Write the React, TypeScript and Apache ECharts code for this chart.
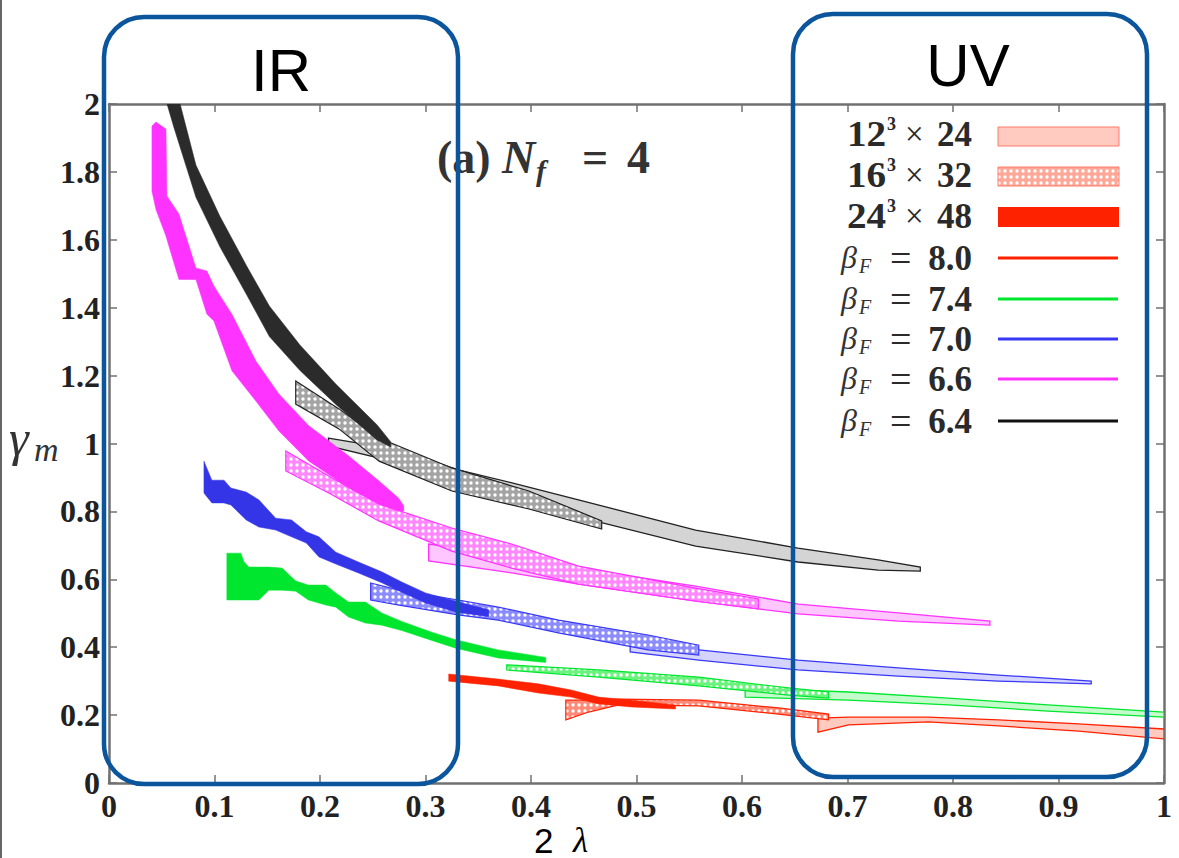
import React, { useEffect, useRef } from 'react';
import * as echarts from 'echarts';

const xTickLabels = ['0', '0.1', '0.2', '0.3', '0.4', '0.5', '0.6', '0.7', '0.8', '0.9', '1'];
const yTickLabels = ['0', '0.2', '0.4', '0.6', '0.8', '1', '1.2', '1.4', '1.6', '1.8', '2'];

// Each row: [2λ, γm lower edge, γm upper edge]
// beta_F = 6.4
const black24 = [
  [0.055, 2.0, 2.2], [0.0616, 1.93, 2.07], [0.0824, 1.725, 1.82], [0.105, 1.58, 1.67],
  [0.131, 1.435, 1.52], [0.152, 1.315, 1.405], [0.181, 1.215, 1.29], [0.215, 1.115, 1.175],
  [0.254, 1.01, 1.055], [0.267, 0.99, 1.005],
];
const black16 = [
  [0.177, 1.116, 1.184], [0.218, 1.043, 1.102], [0.256, 0.948, 1.016], [0.325, 0.86, 0.928],
  [0.398, 0.807, 0.86], [0.467, 0.748, 0.772],
];
const black12 = [
  [0.208, 0.993, 1.016], [0.275, 0.943, 0.981], [0.331, 0.872, 0.922], [0.382, 0.834, 0.884],
  [0.445, 0.784, 0.834], [0.556, 0.698, 0.745], [0.653, 0.651, 0.692], [0.729, 0.627, 0.657],
  [0.769, 0.624, 0.636],
];
// beta_F = 6.6
const pink24 = [
  [0.0407, 1.744, 1.935], [0.0445, 1.689, 1.947], [0.054, 1.611, 1.926], [0.0549, 1.601, 1.729],
  [0.0663, 1.483, 1.676], [0.0824, 1.483, 1.517], [0.0928, 1.381, 1.508], [0.0994, 1.361, 1.464],
  [0.1165, 1.214, 1.381], [0.1392, 1.125, 1.243], [0.161, 1.037, 1.146], [0.1894, 0.948, 1.052],
  [0.2273, 0.869, 0.963], [0.2557, 0.822, 0.89], [0.2746, 0.801, 0.839], [0.2794, 0.801, 0.816],
];
const pink16 = [
  [0.1676, 0.919, 0.978], [0.2083, 0.854, 0.904], [0.2557, 0.772, 0.822], [0.3248, 0.683, 0.751],
  [0.3816, 0.633, 0.704], [0.445, 0.586, 0.639], [0.5559, 0.536, 0.574], [0.6155, 0.513, 0.542],
];
const pink12 = [
  [0.303, 0.654, 0.704], [0.3816, 0.619, 0.669], [0.445, 0.586, 0.633], [0.5559, 0.536, 0.58],
  [0.6534, 0.498, 0.527], [0.748, 0.477, 0.501], [0.835, 0.465, 0.477],
];
// beta_F = 7.0
const blue24 = [
  [0.09, 0.854, 0.948], [0.0975, 0.825, 0.892], [0.109, 0.825, 0.892], [0.1155, 0.819, 0.869],
  [0.13, 0.775, 0.857], [0.142, 0.754, 0.834], [0.158, 0.745, 0.78], [0.173, 0.725, 0.775],
  [0.187, 0.707, 0.74], [0.199, 0.666, 0.725], [0.215, 0.645, 0.68], [0.237, 0.618, 0.65],
  [0.2585, 0.59, 0.622], [0.2775, 0.562, 0.592], [0.3, 0.53, 0.56], [0.3286, 0.504, 0.535],
  [0.36, 0.49, 0.51],
];
const blue16 = [
  [0.248, 0.539, 0.589], [0.275, 0.524, 0.568], [0.331, 0.495, 0.539], [0.369, 0.48, 0.518],
  [0.426, 0.442, 0.48], [0.511, 0.392, 0.436], [0.559, 0.377, 0.406],
];
const blue12 = [
  [0.494, 0.386, 0.406], [0.559, 0.362, 0.392], [0.653, 0.333, 0.362], [0.748, 0.315, 0.339],
  [0.843, 0.3, 0.318], [0.931, 0.292, 0.3],
];
// beta_F = 7.4
const green24 = [
  [0.1117, 0.539, 0.677], [0.125, 0.539, 0.677], [0.128, 0.539, 0.651], [0.1326, 0.539, 0.636],
  [0.142, 0.539, 0.636], [0.1515, 0.568, 0.636], [0.164, 0.568, 0.633], [0.177, 0.565, 0.595],
  [0.189, 0.539, 0.583], [0.2055, 0.524, 0.583], [0.215, 0.518, 0.56], [0.227, 0.489, 0.533],
  [0.243, 0.471, 0.533], [0.2585, 0.465, 0.501], [0.2775, 0.449, 0.476], [0.306, 0.42, 0.444],
  [0.3286, 0.397, 0.422], [0.369, 0.368, 0.392], [0.414, 0.355, 0.37],
];
const green16 = [
  [0.377, 0.333, 0.348], [0.464, 0.312, 0.333], [0.559, 0.286, 0.312], [0.644, 0.259, 0.28],
  [0.682, 0.25, 0.268],
];
const green12 = [
  [0.603, 0.253, 0.28], [0.701, 0.244, 0.268], [0.7955, 0.23, 0.25], [0.89, 0.212, 0.23],
  [1.0, 0.194, 0.209],
];
// beta_F = 8.0
const red24 = [
  [0.322, 0.3, 0.321], [0.369, 0.286, 0.306], [0.407, 0.265, 0.292], [0.438, 0.253, 0.274],
  [0.464, 0.233, 0.253], [0.495, 0.224, 0.244], [0.537, 0.218, 0.23],
];
const red16 = [
  [0.433, 0.186, 0.244], [0.4545, 0.209, 0.244], [0.483, 0.23, 0.247], [0.559, 0.227, 0.244],
  [0.6345, 0.203, 0.221], [0.682, 0.186, 0.203],
];
const red12 = [
  [0.672, 0.15, 0.191], [0.701, 0.171, 0.194], [0.7765, 0.18, 0.194], [0.843, 0.168, 0.186],
  [0.919, 0.153, 0.174], [1.0, 0.13, 0.159],
];

const betaValues = ['8.0', '7.4', '7.0', '6.6', '6.4'];
const volumeSpatial = ['12', '16', '24'];
const volumeTemporal = ['24', '32', '48'];

const lineColor: Record<string, string> = { red: '#ff2200', green: '#00e62e', blue: '#3838f5', pink: '#ff33ff', black: '#111111' };
const lightFill: Record<string, string> = { red: '#ffcabf', green: '#c4fbca', blue: '#d4d4ff', pink: '#ffc6ff', black: '#d4d4d4' };
const dotFill: Record<string, string> = { red: '#ff8a78', green: '#6cf37e', blue: '#8c8cff', pink: '#ff88ff', black: '#a4a4a4' };
const solidFill: Record<string, string> = { red: '#ff2200', green: '#00e62e', blue: '#3535e8', pink: '#ff33ff', black: '#2b2b2b' };

const bands: [string, number, number[][]][] = [
  ['black', 12, black12], ['pink', 12, pink12], ['blue', 12, blue12], ['green', 12, green12], ['red', 12, red12],
  ['black', 16, black16], ['pink', 16, pink16], ['blue', 16, blue16], ['green', 16, green16], ['red', 16, red16],
  ['black', 24, black24], ['pink', 24, pink24], ['blue', 24, blue24], ['green', 24, green24], ['red', 24, red24],
];

function dotPattern(bg: string) {
  const c = document.createElement('canvas');
  c.width = 6;
  c.height = 6;
  const ctx = c.getContext('2d') as CanvasRenderingContext2D;
  ctx.fillStyle = bg;
  ctx.fillRect(0, 0, 6, 6);
  ctx.fillStyle = '#ffffff';
  ctx.beginPath();
  ctx.arc(3, 3, 1.7, 0, Math.PI * 2);
  ctx.fill();
  return { image: c, repeat: 'repeat', imageWidth: 6, imageHeight: 6 };
}

function bandSeries(color: string, vol: number, rows: number[][]) {
  let fill: any;
  let stroke: string;
  let lineWidth: number;
  if (vol === 12) {
    fill = lightFill[color];
    stroke = color === 'black' ? '#222' : lineColor[color];
    lineWidth = 1.3;
  } else if (vol === 16) {
    fill = dotPattern(dotFill[color]);
    stroke = color === 'black' ? '#222' : lineColor[color];
    lineWidth = 1.2;
  } else {
    fill = solidFill[color];
    stroke = solidFill[color];
    lineWidth = 0.5;
  }
  return {
    type: 'custom',
    name: color + vol,
    coordinateSystem: 'cartesian2d',
    xAxisIndex: 0,
    yAxisIndex: 0,
    clip: true,
    silent: true,
    z: vol === 12 ? 2 : vol === 16 ? 3 : 4,
    encode: { x: 0, y: [1, 2] },
    data: rows,
    renderItem: (params: any, api: any) => {
      if (params.dataIndex !== 0) return null;
      const upper = rows.map((r) => api.coord([r[0], r[2]]));
      const lower = rows.map((r) => api.coord([r[0], r[1]])).reverse();
      return {
        type: 'polygon',
        shape: { points: upper.concat(lower) },
        style: { fill, stroke, lineWidth },
      };
    },
  };
}

function txt(text: string, x: number, y: number, size: number, opts: any = {}) {
  return {
    type: 'text',
    x,
    y,
    z: 100,
    silent: true,
    scaleX: opts.scaleX || 1,
    style: {
      text,
      fontSize: size,
      fontFamily: opts.family || '"Liberation Serif", serif',
      fontWeight: opts.weight || 'normal',
      fontStyle: opts.style || 'normal',
      fill: opts.color || '#2a2a2a',
      textAlign: opts.align || 'left',
      textVerticalAlign: 'middle',
      align: opts.align || 'left',
      verticalAlign: 'middle',
    },
  };
}

function buildGraphics() {
  const g: any[] = [];
  const blueBox = '#0b559c';
  g.push({ type: 'rect', z: 100, silent: true, shape: { x: 0, y: 0, width: 2, height: 858 }, style: { fill: '#666' } });
  g.push({ type: 'rect', z: 101, silent: true, shape: { x: 104, y: 17, width: 354, height: 767, r: 40 }, style: { fill: 'none', stroke: blueBox, lineWidth: 4.5 } });
  g.push({ type: 'rect', z: 101, silent: true, shape: { x: 793, y: 14, width: 354, height: 763, r: 40 }, style: { fill: 'none', stroke: blueBox, lineWidth: 4.5 } });
  g.push(txt('IR', 281, 70, 60, { family: '"Liberation Sans", Arial, sans-serif', align: 'center', color: '#000' }));
  g.push(txt('UV', 968, 65, 60, { family: '"Liberation Sans", Arial, sans-serif', align: 'center', color: '#000' }));

  // title
  g.push(txt('(a)', 437, 157, 46, { weight: 'bold', color: '#333' }));
  g.push(txt('N', 502, 157, 46, { weight: 'bold', style: 'italic', color: '#333' }));
  g.push(txt('f', 536, 170, 30, { weight: 'bold', style: 'italic', color: '#333' }));
  g.push(txt('=', 582, 157, 46, { weight: 'bold', color: '#333' }));
  g.push(txt('4', 627, 157, 46, { weight: 'bold', color: '#333' }));

  // axis titles
  g.push(txt('γ', 9, 438, 50, { style: 'italic', color: '#333' }));
  g.push(txt('m', 34, 449, 34, { style: 'italic', color: '#333' }));
  g.push(txt('2', 534, 840, 35, { family: '"Liberation Sans", Arial, sans-serif', color: '#000' }));
  g.push(txt('λ', 573, 840, 35, { style: 'italic', color: '#000' }));

  // legend: volumes
  const volRows = [134, 175, 216];
  volumeSpatial.forEach((s, i) => {
    const y = volRows[i];
    g.push(txt(s, 847, y, 35, { weight: 'bold', scaleX: 1.12 }));
    g.push(txt('3', 887, y - 10, 18, { weight: 'bold' }));
    g.push(txt('×', 905, y, 33, {}));
    g.push(txt(volumeTemporal[i], 972, y, 35, { weight: 'bold', align: 'right' }));
  });
  g.push({ type: 'rect', z: 100, silent: true, shape: { x: 998, y: 127, width: 121, height: 19 }, style: { fill: lightFill.red, stroke: '#ff7a6a', lineWidth: 1 } });
  g.push({ type: 'rect', z: 100, silent: true, shape: { x: 998, y: 167, width: 121, height: 19 }, style: { fill: dotPattern('#ffa898'), stroke: '#ff7a6a', lineWidth: 1 } });
  g.push({ type: 'rect', z: 100, silent: true, shape: { x: 998, y: 207, width: 121, height: 20 }, style: { fill: lineColor.red } });

  // legend: betas
  const betaRows = [258, 299, 339, 379, 421];
  const betaColorKeys = ['red', 'green', 'blue', 'pink', 'black'];
  betaValues.forEach((v, i) => {
    const y = betaRows[i];
    g.push(txt('β', 841, y - 1, 32, { style: 'italic', color: '#333' }));
    g.push(txt('F', 859, y + 8, 20, { style: 'italic', color: '#333' }));
    g.push(txt('=', 890, y, 38, {}));
    g.push(txt(v, 972, y, 35, { weight: 'bold', align: 'right' }));
    g.push({ type: 'line', z: 100, silent: true, shape: { x1: 998, y1: y, x2: 1118, y2: y }, style: { stroke: lineColor[betaColorKeys[i]], lineWidth: 3 } });
  });
  return g;
}

const axisLineStyle = { color: '#707070', width: 2.5 };
const tickStyle = { color: '#707070', width: 1.5 };

export default function App() {
  const ref = useRef<HTMLDivElement>(null);
  useEffect(() => {
    if (!ref.current) return;
    const chart = echarts.init(ref.current, null, { renderer: 'svg' });
    const labelFont = {
      fontFamily: '"Liberation Serif", serif',
      fontWeight: 'bold',
      fontSize: 32,
      color: '#222',
    };
    const option: any = {
      animation: false,
      backgroundColor: '#ffffff',
      grid: { left: 109, right: 15, top: 104, bottom: 75, containLabel: false, outerBoundsMode: 'none' },
      xAxis: [
        {
          type: 'value', min: 0, max: 1, interval: 0.1, position: 'bottom',
          axisLine: { show: true, onZero: false, lineStyle: axisLineStyle },
          axisTick: { show: true, inside: true, length: 8, lineStyle: tickStyle },
          axisLabel: { ...labelFont, margin: 7, formatter: (v: number) => xTickLabels[Math.round(v * 10)] },
          splitLine: { show: false },
        },
        {
          type: 'value', min: 0, max: 1, interval: 0.1, position: 'top',
          axisLine: { show: true, onZero: false, lineStyle: axisLineStyle },
          axisTick: { show: true, inside: true, length: 8, lineStyle: tickStyle },
          axisLabel: { show: false },
          splitLine: { show: false },
        },
      ],
      yAxis: [
        {
          type: 'value', min: 0, max: 2, interval: 0.2, position: 'left',
          axisLine: { show: true, onZero: false, lineStyle: axisLineStyle },
          axisTick: { show: true, inside: true, length: 8, lineStyle: tickStyle },
          axisLabel: { ...labelFont, margin: 9, formatter: (v: number) => yTickLabels[Math.round(v * 5)] },
          splitLine: { show: false },
        },
        {
          type: 'value', min: 0, max: 2, interval: 0.2, position: 'right',
          axisLine: { show: true, onZero: false, lineStyle: axisLineStyle },
          axisTick: { show: true, inside: true, length: 8, lineStyle: tickStyle },
          axisLabel: { show: false },
          splitLine: { show: false },
        },
      ],
      series: bands.map(([c, v, rows]) => bandSeries(c, v, rows)),
      graphic: { elements: buildGraphics() },
    };
    chart.setOption(option);
    return () => chart.dispose();
  }, []);
  return <div ref={ref} style={{ position: 'absolute', left: 0, top: 0, width: 1179, height: 858 }} />;
}
